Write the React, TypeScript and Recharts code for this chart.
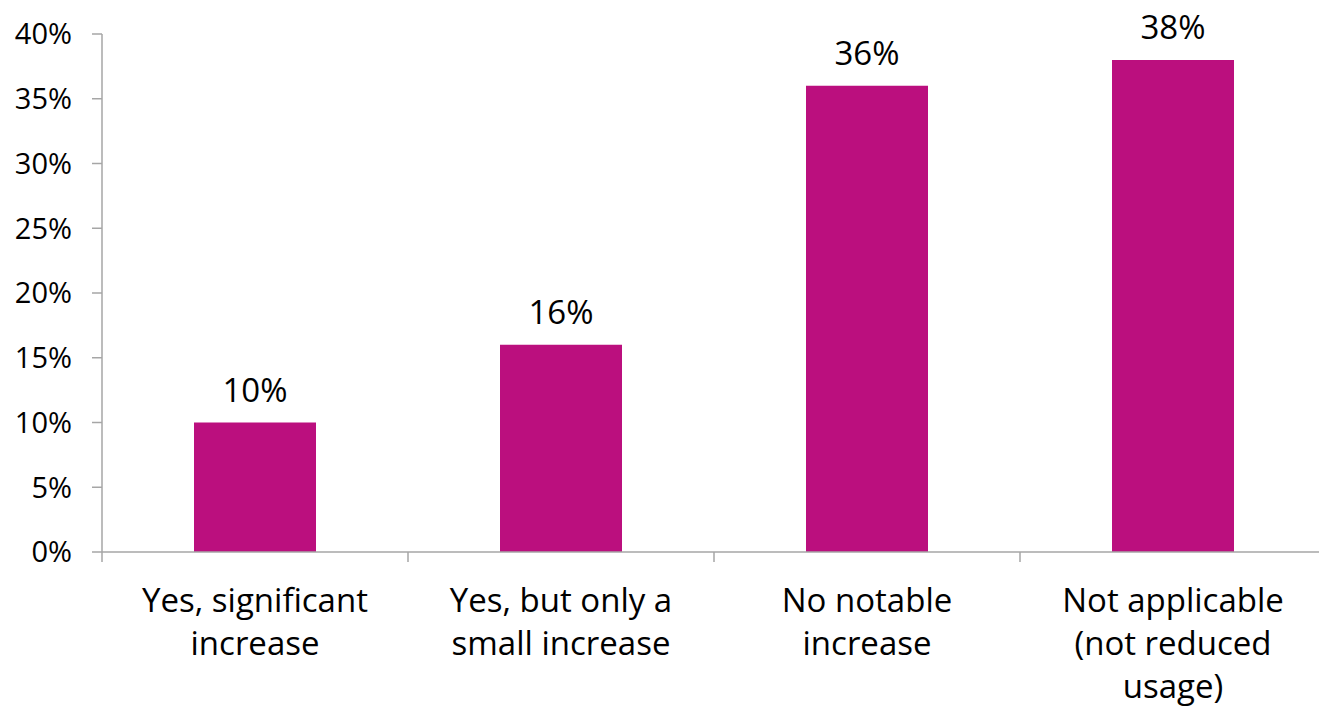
import React from "react";
import { BarChart, Bar, XAxis, YAxis, LabelList } from "recharts";

const categories = [
  ["Yes, significant", "increase"],
  ["Yes, but only a", "small increase"],
  ["No notable", "increase"],
  ["Not applicable", "(not reduced", "usage)"],
];
const values = [10, 16, 36, 38];
const yTicks = [0, 5, 10, 15, 20, 25, 30, 35, 40];

const data = categories.map((c, i) => ({ name: c.join("\n"), value: values[i] }));

const FONT = "'Open Sans', sans-serif";
const GRAY = "#A6A6A6";
const CHART_W = 1326;
const LEFT = 102;
const BAND = (CHART_W - LEFT) / categories.length;

const XTick = (props: any) => {
  const { x, y, payload } = props;
  const lines: string[] = String(payload.value).split("\n");
  return (
    <g>
      <line x1={x - BAND / 2} x2={x - BAND / 2} y1={y} y2={y + 10} stroke={GRAY} strokeWidth={1.5} />
      {lines.map((l, i) => (
        <text
          key={i}
          x={x}
          y={y + 60 + i * 43}
          textAnchor="middle"
          fontFamily={FONT}
          fontSize={33}
          fill="#000"
        >
          {l}
        </text>
      ))}
    </g>
  );
};

export default function App() {
  return (
    <div style={{ position: "absolute", left: 0, top: 0, width: 1319, height: 708, overflow: "hidden", background: "#fff" }}>
      <BarChart
        width={CHART_W}
        height={708}
        data={data}
        margin={{ top: 34, right: 0, bottom: 0, left: 0 }}
        barCategoryGap={0}
      >
        <XAxis
          dataKey="name"
          height={156}
          interval={0}
          tickLine={false}
          tickSize={0}
          tickMargin={0}
          axisLine={{ stroke: GRAY, strokeWidth: 1.5 }}
          tick={<XTick />}
        />
        <YAxis
          width={LEFT}
          domain={[0, 40]}
          ticks={yTicks}
          interval={0}
          tickFormatter={(v: number) => `${v}%`}
          axisLine={{ stroke: GRAY, strokeWidth: 1.5 }}
          tickLine={{ stroke: GRAY, strokeWidth: 1.5 }}
          tickSize={10}
          tickMargin={20}
          tick={{ fontFamily: FONT, fontSize: 29, fill: "#000" }}
        />
        <Bar dataKey="value" fill="#BB0F7E" barSize={122} isAnimationActive={false}>
          <LabelList
            dataKey="value"
            position="top"
            offset={21}
            formatter={(v: number) => `${v}%`}
            style={{ fontFamily: FONT, fontSize: 33, fill: "#000" }}
          />
        </Bar>
      </BarChart>
    </div>
  );
}
